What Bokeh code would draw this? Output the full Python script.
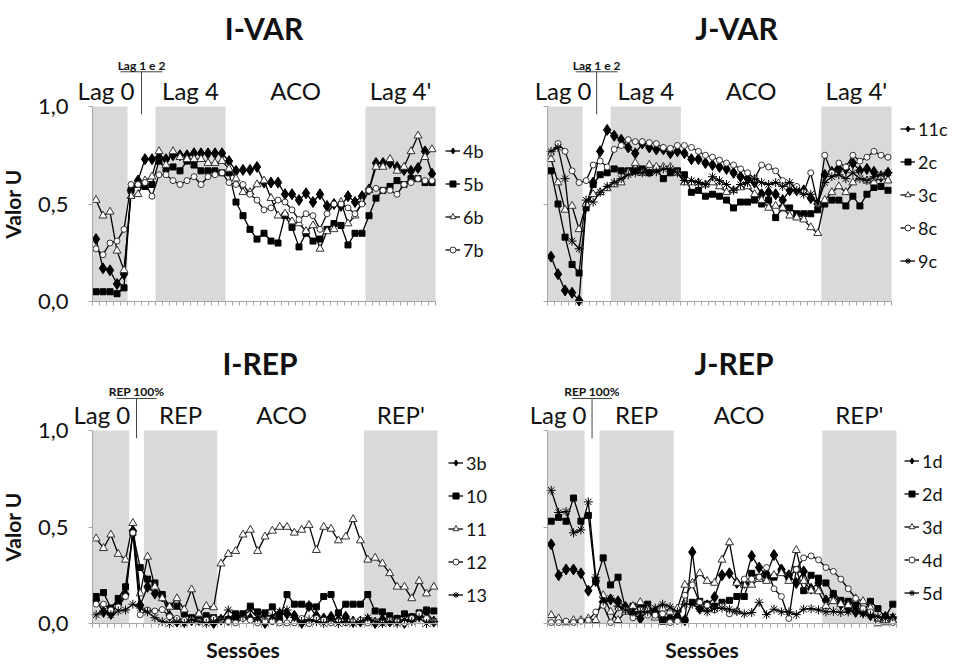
import numpy as np
from bokeh.plotting import figure
from bokeh.layouts import column, row
from bokeh.models import (Range1d, BoxAnnotation, Legend, LegendItem, FixedTicker,
                          ColumnDataSource, Label)
from bokeh.embed import file_html
from bokeh.resources import INLINE

FONT = "Lato"

# ---------------- data ----------------
var_phases = ["Lag 0", "Lag 1 e 2", "Lag 4", "ACO", "Lag 4'"]
var_lengths = [5, 4, 10, 20, 10]
rep_phases = ["Lag 0", "REP 100%", "REP", "ACO", "REP'"]
rep_lengths = [5, 2, 10, 20, 10]
shaded = [True, False, True, False, True]
y_ticks = [0, 0.5, 1.0]
y_tick_labels = ["0,0", "0,5", "1,0"]
x_title = "Sessões"
y_title = "Valor U"

# I-VAR
ivar_labels = ["4b", "5b", "6b", "7b"]
ivar_4b = [0.32, 0.17, 0.16, 0.09, 0.14, 0.57, 0.62, 0.73, 0.73,
           0.74, 0.73, 0.75, 0.75, 0.75, 0.76, 0.76, 0.76, 0.76, 0.76,
           0.72, 0.67, 0.675, 0.675, 0.69, 0.61, 0.61, 0.61, 0.55, 0.55,
           0.52, 0.555, 0.51, 0.55, 0.49, 0.50, 0.49, 0.54, 0.51, 0.54,
           0.575, 0.71, 0.71, 0.71, 0.69, 0.675, 0.67, 0.685, 0.77, 0.655]
ivar_5b = [0.05, 0.05, 0.05, 0.04, 0.07, 0.57, 0.60, 0.59, 0.60,
           0.72, 0.68, 0.69, 0.67, 0.72, 0.70, 0.67, 0.67, 0.67, 0.66,
           0.66, 0.51, 0.44, 0.37, 0.32, 0.35, 0.31, 0.30, 0.44, 0.38,
           0.28, 0.35, 0.31, 0.32, 0.37, 0.40, 0.39, 0.29, 0.35, 0.35,
           0.44, 0.53, 0.57, 0.59, 0.62, 0.60, 0.63, 0.63, 0.61, 0.61]
ivar_6b = [0.52, 0.44, 0.46, 0.26, 0.16, 0.54, 0.55, 0.62, 0.64,
           0.77, 0.70, 0.77, 0.74, 0.73, 0.73, 0.73, 0.71, 0.71, 0.72,
           0.68, 0.63, 0.56, 0.56, 0.60, 0.62, 0.53, 0.44, 0.45, 0.41,
           0.40, 0.36, 0.39, 0.27, 0.36, 0.37, 0.51, 0.40, 0.44, 0.51,
           0.57, 0.69, 0.69, 0.73, 0.67, 0.69, 0.77, 0.85, 0.74, 0.78]
ivar_7b = [0.27, 0.24, 0.30, 0.31, 0.37, 0.60, 0.60, 0.61, 0.54,
           0.65, 0.65, 0.62, 0.60, 0.62, 0.64, 0.60, 0.64, 0.65, 0.66,
           0.61, 0.60, 0.60, 0.55, 0.52, 0.47, 0.48, 0.52, 0.51, 0.47,
           0.42, 0.45, 0.44, 0.37, 0.45, 0.50, 0.50, 0.48, 0.45, 0.50,
           0.57, 0.58, 0.57, 0.57, 0.55, 0.60, 0.61, 0.63, 0.62, 0.62]

# J-VAR
jvar_labels = ["11c", "2c", "3c", "8c", "9c"]
jvar_11c = [0.23, 0.14, 0.057, 0.045, 0.005, 0.49, 0.61, 0.77, 0.88,
            0.85, 0.83, 0.79, 0.76, 0.81, 0.79, 0.78, 0.78, 0.76, 0.77,
            0.76, 0.73, 0.73, 0.71, 0.70, 0.69, 0.68, 0.66, 0.64, 0.63,
            0.61, 0.55, 0.56, 0.55, 0.52, 0.57, 0.57, 0.57, 0.53, 0.50,
            0.65, 0.665, 0.68, 0.68, 0.71, 0.67, 0.68, 0.665, 0.64, 0.66]
jvar_2c = [0.67, 0.50, 0.33, 0.19, 0.146, 0.48, 0.60, 0.65, 0.66,
           0.68, 0.67, 0.67, 0.67, 0.68, 0.66, 0.68, 0.63, 0.66, 0.67,
           0.65, 0.56, 0.57, 0.54, 0.55, 0.54, 0.52, 0.48, 0.51, 0.51,
           0.52, 0.50, 0.52, 0.43, 0.48, 0.48, 0.45, 0.45, 0.45, 0.47,
           0.50, 0.52, 0.52, 0.49, 0.54, 0.49, 0.55, 0.585, 0.59, 0.57]
jvar_3c = [0.73, 0.61, 0.47, 0.49, 0.37, 0.50, 0.55, 0.56, 0.58,
           0.60, 0.61, 0.66, 0.71, 0.66, 0.70, 0.69, 0.69, 0.69, 0.66,
           0.61, 0.61, 0.61, 0.60, 0.61, 0.59, 0.56, 0.57, 0.585, 0.59,
           0.55, 0.52, 0.48, 0.49, 0.48, 0.44, 0.43, 0.42, 0.38, 0.35,
           0.52, 0.56, 0.59, 0.56, 0.61, 0.64, 0.62, 0.61, 0.64, 0.62]
jvar_8c = [0.76, 0.81, 0.77, 0.67, 0.61, 0.62, 0.70, 0.72, 0.69,
           0.78, 0.80, 0.83, 0.82, 0.82, 0.815, 0.81, 0.79, 0.785, 0.80,
           0.80, 0.79, 0.77, 0.75, 0.74, 0.725, 0.71, 0.70, 0.68, 0.66,
           0.63, 0.70, 0.69, 0.67, 0.62, 0.60, 0.59, 0.56, 0.66, 0.50,
           0.75, 0.66, 0.71, 0.69, 0.75, 0.72, 0.74, 0.77, 0.75, 0.74]
jvar_9c = [0.77, 0.79, 0.63, 0.31, 0.27, 0.52, 0.51, 0.56, 0.59,
           0.61, 0.63, 0.65, 0.66, 0.66, 0.66, 0.665, 0.68, 0.68, 0.66,
           0.62, 0.62, 0.61, 0.60, 0.64, 0.62, 0.60, 0.57, 0.60, 0.61,
           0.63, 0.61, 0.60, 0.61, 0.59, 0.61, 0.57, 0.55, 0.55, 0.50,
           0.61, 0.64, 0.65, 0.63, 0.66, 0.63, 0.62, 0.64, 0.65, 0.66]

# I-REP
irep_labels = ["3b", "10", "11", "12", "13"]
irep_3b = [0.12, 0.06, 0.05, 0.10, 0.15, 0.48, 0.095,
           0.19, 0.155, 0.14, 0.04, 0.01, 0.01, 0.017, 0.026, 0.017, 0.003,
           0.02, 0.017, 0.026, 0.035, 0.026, 0.017, 0.003, 0.02, 0.05, 0.05,
           0.04, 0.003, 0.09, 0.04, 0.026, 0.035, 0.017, 0.035, 0.01, 0.01,
           0.017, 0.003, 0.02, 0.01, 0.017, 0.003, 0.026, 0.04, 0.06, 0.01]
irep_10 = [0.14, 0.16, 0.08, 0.13, 0.19, 0.47, 0.29,
           0.23, 0.21, 0.15, 0.09, 0.09, 0.05, 0.03, 0.04, 0.04, 0.03,
           0.02, 0.02, 0.05, 0.05, 0.09, 0.06, 0.055, 0.086, 0.02, 0.15,
           0.10, 0.10, 0.09, 0.086, 0.14, 0.15, 0.055, 0.10, 0.10, 0.10,
           0.15, 0.065, 0.06, 0.04, 0.026, 0.05, 0.035, 0.055, 0.07, 0.065]
irep_11 = [0.44, 0.39, 0.46, 0.36, 0.33, 0.52, 0.155,
           0.345, 0.19, 0.13, 0.086, 0.13, 0.072, 0.176, 0.05, 0.09, 0.083,
           0.31, 0.36, 0.375, 0.46, 0.485, 0.375, 0.45, 0.48, 0.50, 0.50,
           0.47, 0.485, 0.51, 0.38, 0.50, 0.49, 0.43, 0.45, 0.54, 0.43,
           0.33, 0.34, 0.31, 0.26, 0.19, 0.19, 0.13, 0.22, 0.155, 0.19]
irep_12 = [0.10, 0.10, 0.07, 0.086, 0.14, 0.47, 0.045,
           0.07, 0.065, 0.072, 0.035, 0.026, 0.017, 0.02, 0.01, 0.017, 0.026,
           0.017, 0.01, 0.003, 0.026, 0.017, 0.003, 0.01, 0.01, 0.003, 0.003,
           0.003, 0.026, 0.0, 0.026, 0.017, 0.003, 0.01, 0.003, 0.01, 0.017,
           0.003, 0.01, 0.003, 0.017, 0.01, 0.003, 0.026, 0.05, 0.026, 0.01]
irep_13 = [0.045, 0.065, 0.045, 0.065, 0.07, 0.10, 0.08,
           0.06, 0.03, 0.01, 0.0, 0.01, 0.0, 0.02, 0.01, 0.0, 0.01,
           0.02, 0.07, 0.04, 0.04, 0.07, 0.03, 0.04, 0.04, 0.06, 0.07,
           0.03, 0.01, 0.02, 0.01, 0.0, 0.02, 0.0, 0.01, 0.0, 0.01,
           0.03, 0.01, 0.0, 0.01, 0.0, 0.02, 0.01, 0.03, 0.0, 0.01]

# J-REP
jrep_labels = ["1d", "2d", "3d", "4d", "5d"]
jrep_1d = [0.41, 0.25, 0.28, 0.28, 0.26, 0.17, 0.22,
           0.11, 0.125, 0.115, 0.086, 0.05, 0.026, 0.07, 0.06, 0.026, 0.03,
           0.034, 0.017, 0.37, 0.077, 0.094, 0.137, 0.25, 0.26, 0.21, 0.21,
           0.35, 0.29, 0.25, 0.355, 0.28, 0.25, 0.21, 0.27, 0.18, 0.21,
           0.12, 0.146, 0.10, 0.077, 0.06, 0.06, 0.043, 0.017, 0.034, 0.026]
jrep_2d = [0.53, 0.55, 0.53, 0.65, 0.53, 0.56, 0.22,
           0.34, 0.20, 0.24, 0.077, 0.09, 0.09, 0.10, 0.05, 0.012, 0.017,
           0.026, 0.017, 0.11, 0.115, 0.10, 0.09, 0.11, 0.12, 0.14, 0.14,
           0.26, 0.24, 0.25, 0.24, 0.27, 0.24, 0.28, 0.17, 0.25, 0.235,
           0.21, 0.155, 0.12, 0.115, 0.094, 0.06, 0.115, 0.077, 0.034, 0.10]
jrep_3d = [0.043, 0.026, 0.005, 0.017, 0.017, 0.026, 0.017,
           0.146, 0.06, 0.017, 0.06, 0.09, 0.11, 0.07, 0.03, 0.077, 0.06,
           0.077, 0.20, 0.21, 0.26, 0.22, 0.21, 0.33, 0.42, 0.21, 0.20,
           0.20, 0.23, 0.22, 0.25, 0.26, 0.22, 0.38, 0.22, 0.17, 0.166,
           0.09, 0.115, 0.10, 0.094, 0.13, 0.115, 0.08, 0.0, 0.005, 0.017]
jrep_4d = [0.005, 0.005, 0.012, 0.005, 0.012, 0.017, 0.06,
           0.094, 0.005, 0.08, 0.07, 0.03, 0.07, 0.043, 0.043, 0.05, 0.005,
           0.012, 0.146, 0.20, 0.11, 0.094, 0.07, 0.09, 0.05, 0.063, 0.23,
           0.23, 0.24, 0.29, 0.18, 0.14, 0.026, 0.28, 0.34, 0.35, 0.33,
           0.29, 0.27, 0.23, 0.18, 0.13, 0.077, 0.06, 0.026, 0.017, 0.005]
jrep_5d = [0.69, 0.575, 0.58, 0.47, 0.485, 0.63, 0.24,
           0.115, 0.13, 0.09, 0.07, 0.06, 0.06, 0.06, 0.08, 0.10, 0.086,
           0.06, 0.10, 0.10, 0.077, 0.06, 0.077, 0.08, 0.074, 0.063, 0.05,
           0.057, 0.11, 0.046, 0.074, 0.06, 0.06, 0.046, 0.074, 0.077, 0.07,
           0.06, 0.063, 0.057, 0.06, 0.07, 0.05, 0.043, 0.034, 0.026, 0.034]

# ---------------- styling ----------------
SHADE = "#d9d9d9"
AXIS_C = "#a6a6a6"
TXT = "#111111"
MARKERS = [
    dict(marker="diamond", size=11, fill_color="black", line_color="black"),
    dict(marker="square", size=6, fill_color="black", line_color="black"),
    dict(marker="triangle", size=8, fill_color="white", line_color="#333333"),
    dict(marker="circle", size=6, fill_color="white", line_color="#333333"),
    dict(marker="asterisk", size=9, fill_color=None, line_color="black"),
]


def make_panel(title, phases, lengths, labels, series, g):
    """g: geometry in pixels (frame covers the whole figure; axes are fixed inside)."""
    n = sum(lengths)
    xs = list(range(1, n + 1))
    s = g["data_w"] / n           # px per session
    u = g["u"]                    # px per unit of U
    fw = g["L"] + g["data_w"] + g["R"]
    fh = g["T"] + u + g["B"]
    x0, x1 = 0.5 - g["L"] / s, n + 0.5 + g["R"] / s
    y0, y1 = -g["B"] / u, 1 + g["T"] / u
    p = figure(frame_width=fw, frame_height=fh, x_range=Range1d(x0, x1),
               y_range=Range1d(y0, y1), output_backend="svg", toolbar_location=None,
               title=None, min_border=0)
    p.outline_line_color = None
    p.xgrid.visible = False
    p.ygrid.visible = False

    # title
    p.add_layout(Label(x=(n + 1) / 2, y=g["title_y"], text=title, text_align="center",
                       x_offset=g["title_dx"], text_baseline="middle", text_font=FONT,
                       text_font_size="30px", text_font_style="bold", text_color=TXT))

    edges = np.concatenate([[0], np.cumsum(lengths)]) + 0.5
    for k in range(len(lengths)):
        if shaded[k]:
            p.add_layout(BoxAnnotation(left=edges[k], right=edges[k + 1], bottom=0, top=1,
                                       fill_color=SHADE, fill_alpha=1.0, line_color=None,
                                       level="underlay"))

    # y axis (fixed at the left edge of the sessions)
    ya = p.yaxis[0]
    ya.fixed_location = 0.5
    ya.bounds = (0, 1)
    ya.axis_line_color = AXIS_C
    ya.major_tick_line_color = AXIS_C
    ya.minor_tick_line_color = AXIS_C
    ya.major_tick_out = 4
    ya.major_tick_in = 0
    ya.minor_tick_out = 4
    ya.minor_tick_in = 0
    if g["ylabels"]:
        ya.ticker = FixedTicker(ticks=y_ticks)
        ya.major_label_overrides = {t: l for t, l in zip(y_ticks, y_tick_labels)}
        ya.major_label_text_font = FONT
        ya.major_label_text_font_size = "22px"
        ya.major_label_text_color = TXT
        ya.major_label_standoff = 20
        ya.axis_label = y_title
        ya.axis_label_text_font = FONT
        ya.axis_label_text_font_size = "21px"
        ya.axis_label_text_font_style = "bold"
        ya.axis_label_text_color = TXT
        ya.axis_label_standoff = 10
    else:
        ya.ticker = FixedTicker(ticks=[], minor_ticks=y_ticks)

    # x axis (fixed at U = 0), a tick between sessions
    xa = p.xaxis[0]
    xa.ticker = FixedTicker(ticks=[], minor_ticks=list(edges[0] + np.arange(n + 1)))
    xa.fixed_location = 0
    xa.bounds = (0.5, n + 0.5)
    xa.axis_line_color = AXIS_C
    xa.major_tick_line_color = None
    xa.minor_tick_line_color = AXIS_C
    xa.minor_tick_out = 4
    xa.minor_tick_in = 0
    xa.major_label_standoff = 0
    if g["xlabel"]:
        p.add_layout(Label(x=(n + 1) / 2, y=g["xlab_y"], text=x_title, text_align="center",
                           x_offset=g["xlab_dx"], text_baseline="middle", text_font=FONT,
                           text_font_size="21px", text_font_style="bold", text_color=TXT))

    # phase labels
    for k, name in enumerate(phases):
        cx = (edges[k] + edges[k + 1]) / 2
        if k == 1:
            p.add_layout(Label(x=cx, y=g["small_y"], text=name, text_align="center",
                               text_baseline="middle", text_font=FONT,
                               text_font_size="12px", text_font_style="bold", text_color=TXT))
            ul = g["ul_px"] / s
            p.segment(x0=[cx - ul], y0=[g["line_y"]], x1=[cx + ul], y1=[g["line_y"]],
                      line_color="#444444", line_width=1)
            p.segment(x0=[cx], y0=[0.96], x1=[cx], y1=[g["line_y"]],
                      line_color="#444444", line_width=1)
        else:
            p.add_layout(Label(x=cx, y=g["big_y"], text=name, text_align="center",
                               x_offset=g["offsets"][k],
                               text_baseline="middle", text_font=FONT,
                               text_font_size="24px", text_color=TXT))

    # series
    items = []
    for lab, vals, st in zip(labels, series, MARKERS):
        src = ColumnDataSource(dict(x=xs, y=vals))
        lr = p.line("x", "y", source=src, line_color="black", line_width=1.3)
        sr = p.scatter("x", "y", source=src, **st)
        items.append(LegendItem(label=lab, renderers=[lr, sr]))
    leg = Legend(items=items, location=(g["leg_x"], g["leg_y"]),
                 label_text_font=FONT, label_text_font_size="18px", label_text_color=TXT,
                 glyph_width=15, glyph_height=23, label_height=23, label_standoff=3,
                 spacing=10, padding=0, margin=0, border_line_color=None,
                 background_fill_alpha=0)
    p.add_layout(leg)
    return p


top = dict(u=195, T=106, B=19, title_y=1.405, small_y=1.208, line_y=1.178,
           big_y=1.082, ul_px=21, xlabel=False)
bot = dict(u=193, T=110, B=41, title_y=1.35, small_y=1.202, line_y=1.166,
           big_y=1.083, ul_px=20, xlabel=True, xlab_y=-0.135)

p1 = make_panel("I-VAR", var_phases, var_lengths, ivar_labels,
                [ivar_4b, ivar_5b, ivar_6b, ivar_7b],
                dict(top, L=92, data_w=343, R=52, title_dx=0, ylabels=True,
                     offsets=[-4, 0, 0, 0, 0], leg_x=445, leg_y=59))
p2 = make_panel("J-VAR", var_phases, var_lengths, jvar_labels,
                [jvar_11c, jvar_2c, jvar_3c, jvar_8c, jvar_9c],
                dict(top, L=60, data_w=344, R=63, title_dx=17, ylabels=False,
                     offsets=[-2, 0, 0, 0, 0], leg_x=413, leg_y=48))
p3 = make_panel("I-REP", rep_phases, rep_lengths, irep_labels,
                [irep_3b, irep_10, irep_11, irep_12, irep_13],
                dict(bot, L=92, data_w=345, R=50, title_dx=-5, ylabels=True,
                     offsets=[-9, 0, 0, -9, 0], leg_x=448, leg_y=58, xlab_dx=-22))
p4 = make_panel("J-REP", rep_phases, rep_lengths, jrep_labels,
                [jrep_1d, jrep_2d, jrep_3d, jrep_4d, jrep_5d],
                dict(bot, L=60, data_w=349, R=58, title_dx=12, ylabels=False,
                     offsets=[-8, 0, 0, -9, 0], leg_x=417, leg_y=60, xlab_dx=-20))

layout = column(row(p1, p2), row(p3, p4))
open("out.html", "w").write(file_html(layout, INLINE))
